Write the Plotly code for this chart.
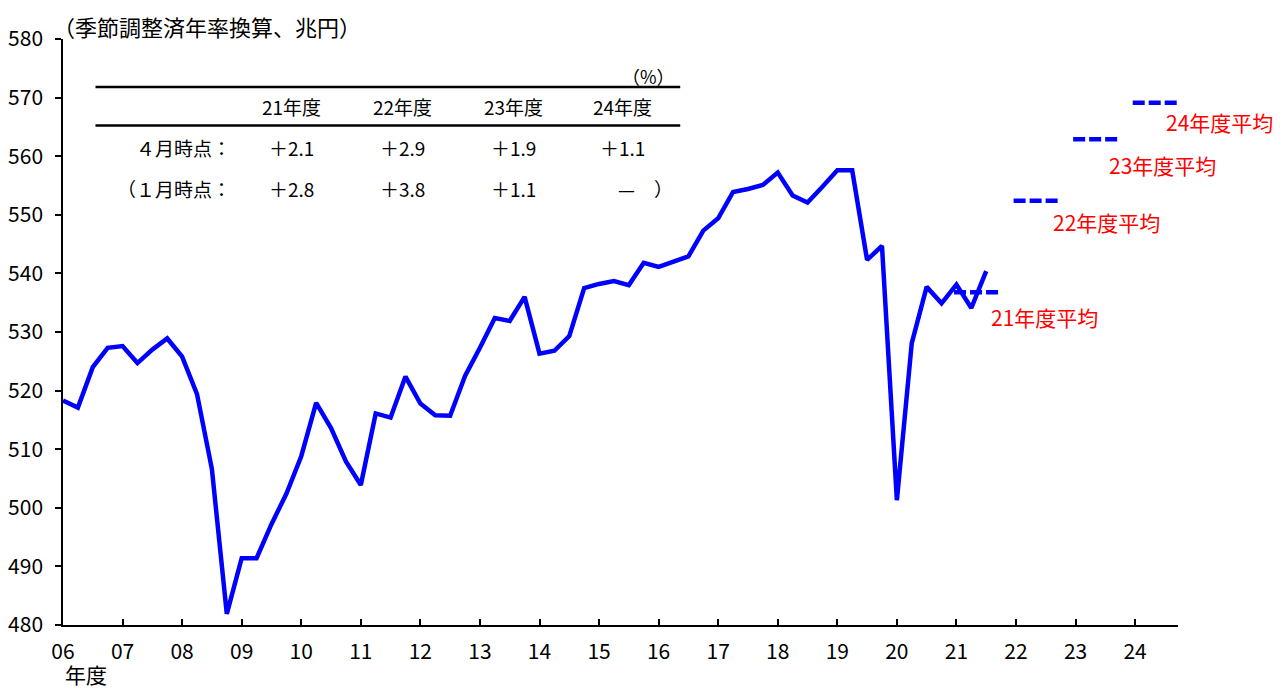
import plotly.graph_objects as go

# ---------------- data ----------------
start_fy = 2006
gdp = [518.3, 517.1, 524.0, 527.3,
       527.6, 524.7, 527.0, 528.9,
       525.8, 519.4, 506.6, 481.9,
       491.4, 491.4, 497.2, 502.4,
       508.8, 517.9, 513.6, 507.9,
       503.9, 516.1, 515.4, 522.4,
       517.8, 515.8, 515.7, 522.5,
       527.3, 532.4, 531.9, 536.0,
       526.3, 526.8, 529.3, 537.5,
       538.2, 538.7, 538.0, 541.8,
       541.1, 542.0, 542.9, 547.3,
       549.4, 553.9, 554.4, 555.1,
       557.2, 553.3, 552.1, 554.8,
       557.6, 557.6, 542.3, 544.7,
       501.3, 528.1, 537.7, 534.9,
       538.1, 534.1, 540.4]

avg_years = [2021, 2022, 2023, 2024]
avg_values = [536.8, 552.4, 562.9, 569.1]
avg_labels = ["21年度平均", "22年度平均", "23年度平均", "24年度平均"]

tick_years = list(range(2006, 2025))
tick_text = ["%02d" % (y % 100) for y in tick_years]

table_cols = ["21年度", "22年度", "23年度", "24年度"]
row_apr_label = "４月時点："
row_apr = ["＋2.1", "＋2.9", "＋1.9", "＋1.1"]
row_jan_label = "（１月時点："
row_jan = ["＋2.8", "＋3.8", "＋1.1", "—　）"]

# ---------------- layout geometry (page pixels) ----------------
W, H = 1284, 688
BODY = 8  # default page body margin
PL, PR, PT, PB = 62.5, 1178.0, 39.3, 625.0
FONT = "Noto Sans CJK JP"


def px(x):
    return (x - PL) / (PR - PL)


def py(y):
    return (PB - y) / (PB - PT)


x_q = [start_fy + i / 4 for i in range(len(gdp))]

fig = go.Figure()
fig.add_trace(go.Scatter(x=x_q, y=gdp, mode="lines",
                         line=dict(color="#0000FF", width=4.5),
                         hoverinfo="skip", showlegend=False))

for yr, v in zip(avg_years, avg_values):
    fig.add_trace(go.Scatter(x=[yr - 0.04, yr + 0.76], y=[v, v], mode="lines",
                             line=dict(color="#0000FF", width=4.5, dash="12px,4px"),
                             hoverinfo="skip", showlegend=False))

annotations = []
avg_label_pos = [(989, 317), (1051, 222), (1107, 165), (1164, 122)]
for lab, (lx, ly) in zip(avg_labels, avg_label_pos):
    annotations.append(dict(xref="paper", yref="paper", x=px(lx), y=py(ly),
                            text=lab, showarrow=False, xanchor="left", yanchor="middle",
                            font=dict(family=FONT, size=21, color="#FF0000")))

annotations.append(dict(xref="paper", yref="paper", x=px(50), y=py(8.5),
                        text="（季節調整済年率換算、兆円）", showarrow=False,
                        xanchor="left", yanchor="top",
                        font=dict(family=FONT, size=22, color="#000000")))
annotations.append(dict(xref="paper", yref="paper", x=px(62), y=py(674),
                        text="年度", showarrow=False, xanchor="left", yanchor="middle",
                        font=dict(family=FONT, size=21, color="#000000")))

TF = 19
col_x = [291, 402, 513, 622]
for cx, t in zip(col_x, table_cols):
    annotations.append(dict(xref="paper", yref="paper", x=px(cx), y=py(107), text=t,
                            showarrow=False, xanchor="center", yanchor="middle",
                            font=dict(family=FONT, size=TF, color="#000000")))
for cx, t in zip(col_x, row_apr):
    annotations.append(dict(xref="paper", yref="paper", x=px(cx), y=py(148), text=t,
                            showarrow=False, xanchor="center", yanchor="middle",
                            font=dict(family=FONT, size=TF, color="#000000")))
for i, (cx, t) in enumerate(zip(col_x, row_jan)):
    if i == 3:
        annotations.append(dict(xref="paper", yref="paper", x=px(616), y=py(189), text=t,
                                showarrow=False, xanchor="left", yanchor="middle",
                                font=dict(family=FONT, size=TF, color="#000000")))
    else:
        annotations.append(dict(xref="paper", yref="paper", x=px(cx), y=py(189), text=t,
                                showarrow=False, xanchor="center", yanchor="middle",
                                font=dict(family=FONT, size=TF, color="#000000")))
annotations.append(dict(xref="paper", yref="paper", x=px(233), y=py(148), text=row_apr_label,
                        showarrow=False, xanchor="right", yanchor="middle",
                        font=dict(family=FONT, size=TF, color="#000000")))
annotations.append(dict(xref="paper", yref="paper", x=px(233), y=py(189), text=row_jan_label,
                        showarrow=False, xanchor="right", yanchor="middle",
                        font=dict(family=FONT, size=TF, color="#000000")))
annotations.append(dict(xref="paper", yref="paper", x=px(677), y=py(76), text="（%）",
                        showarrow=False, xanchor="right", yanchor="middle",
                        font=dict(family=FONT, size=18, color="#000000")))

shapes = []
for ly in (87.3, 125.7):
    shapes.append(dict(type="line", xref="paper", yref="paper",
                       x0=px(95), x1=px(680), y0=py(ly), y1=py(ly),
                       line=dict(color="#000000", width=2.5)))

fig.update_layout(
    width=W - BODY, height=H - BODY,
    margin=dict(l=PL - BODY, r=W - PR, t=PT - BODY, b=H - PB, pad=0, autoexpand=False),
    paper_bgcolor="white", plot_bgcolor="white",
    font=dict(family=FONT, color="#000000"),
    annotations=annotations, shapes=shapes,
    xaxis=dict(range=[2006, 2024.72], tickmode="array", tickvals=tick_years,
               ticktext=tick_text, ticks="inside", ticklen=6, tickwidth=1.5,
               tickcolor="black", showline=True, linecolor="black", linewidth=1.5,
               showgrid=False, zeroline=False, ticklabelstandoff=7, automargin=False,
               tickfont=dict(family=FONT, size=21, color="black")),
    yaxis=dict(range=[480, 580], tickmode="linear", tick0=480, dtick=10,
               ticks="outside", ticklen=6, tickwidth=1.5, tickcolor="black",
               showline=True, linecolor="black", linewidth=1.5,
               showgrid=False, zeroline=False, ticklabelstandoff=8, automargin=False,
               tickfont=dict(family=FONT, size=21, color="black")),
)

fig.write_html("out.html")
